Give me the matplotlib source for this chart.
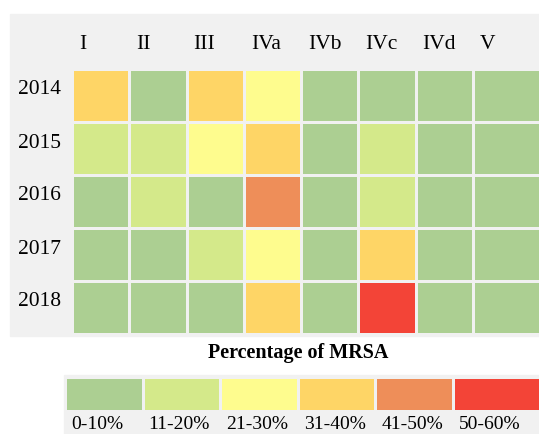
import numpy as np
import matplotlib
matplotlib.use('Agg')
import matplotlib.pyplot as plt
from matplotlib.colors import ListedColormap, BoundaryNorm
from matplotlib.patches import Rectangle

plt.rcParams['font.family'] = ['Liberation Serif', 'DejaVu Serif']

years = ['2014', '2015', '2016', '2017', '2018']
stages = ['I', 'II', 'III', 'IVa', 'IVb', 'IVc', 'IVd', 'V']
bin_labels = ['0-10%', '11-20%', '21-30%', '31-40%', '41-50%', '50-60%']
bin_colors = ['#accf92', '#d4e98a', '#fefc8e', '#fed566', '#ee8e59', '#f34437']

# MRSA percentage bin index (0 = 0-10%, ..., 5 = 50-60%) per stage
mrsa_2014 = [3, 0, 3, 2, 0, 0, 0, 0]
mrsa_2015 = [1, 1, 2, 3, 0, 1, 0, 0]
mrsa_2016 = [0, 1, 0, 4, 0, 1, 0, 0]
mrsa_2017 = [0, 0, 1, 2, 0, 3, 0, 0]
mrsa_2018 = [0, 0, 0, 3, 0, 5, 0, 0]

data = np.array([mrsa_2014, mrsa_2015, mrsa_2016, mrsa_2017, mrsa_2018])

W, H = 539, 434
BG = '#f1f1f1'
fig = plt.figure(figsize=(W / 100, H / 100), dpi=100)


def box(x0, y0, x1, y1):
    return [x0 / W, 1 - y1 / H, (x1 - x0) / W, (y1 - y0) / H]


def fx(x):
    return x / W


def fy(y):
    return 1 - y / H


fig.patches.append(Rectangle((fx(10), fy(336)), (W - 10) / W, (336 - 14) / H,
                             transform=fig.transFigure, color=BG, zorder=-10))
fig.patches.append(Rectangle((fx(64), fy(440)), (W - 64) / W, (440 - 375) / H,
                             transform=fig.transFigure, color=BG, zorder=-10))

cmap = ListedColormap(bin_colors)
norm = BoundaryNorm(np.arange(len(bin_colors) + 1) - 0.5, cmap.N)

# main heatmap
colw = 57.25
ncol = len(stages)
extra = 0.3
x0 = 72
ax = fig.add_axes(box(x0, 69, x0 + (ncol + extra) * colw, 334))
ax.set_zorder(5)
xedges = np.arange(ncol + 1, dtype=float)
xedges[-1] += extra
yedges = np.arange(len(years) + 1, dtype=float)
ax.pcolormesh(xedges, yedges, data, cmap=cmap, norm=norm,
              edgecolors=BG, linewidth=0.9)
ax.set_xlim(0, ncol + extra)
ax.set_ylim(len(years), 0)
ax.axis('off')

rowh = (334 - 69) / len(years)
for i, yr in enumerate(years):
    yc = 69 + rowh * i + rowh / 2
    fig.text(fx(18), fy(yc - 1), yr, ha='left', va='baseline', fontsize=15.5)

for j, st in enumerate(stages):
    fig.text(fx(x0 + colw * j + 7), fy(49), st, ha='left', va='baseline', fontsize=15.5)

fig.text(fx(298), fy(358), 'Percentage of MRSA', ha='center', va='baseline',
         fontsize=14.5, fontweight='bold')

# legend
lw = 77.6
nb = len(bin_labels)
lx0 = 65
lextra = 0.2
lax = fig.add_axes(box(lx0, 377, lx0 + (nb + lextra) * lw, 411))
lax.set_zorder(5)
lxe = np.arange(nb + 1, dtype=float)
lxe[-1] += lextra
lax.pcolormesh(lxe, [0, 1], np.arange(nb)[None, :], cmap=cmap, norm=norm,
               edgecolors=BG, linewidth=0.9)
lax.set_xlim(0, nb + lextra)
lax.set_ylim(0, 1)
lax.axis('off')
for k, lab in enumerate(bin_labels):
    fig.text(fx(lx0 + lw * k + 6), fy(429), lab, ha='left', va='baseline', fontsize=14)

fig.savefig('out.png', dpi=100, facecolor='white')
